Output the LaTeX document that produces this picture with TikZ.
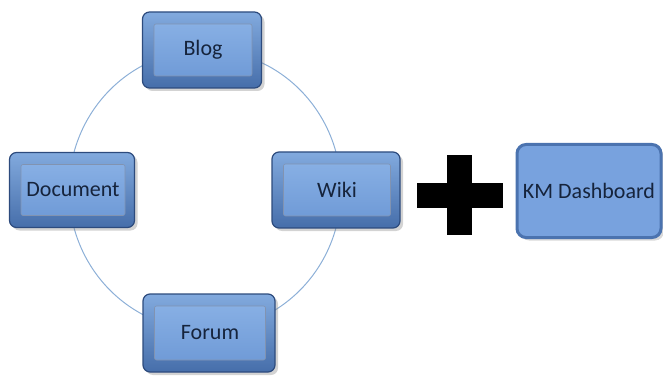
\documentclass[tikz,border=0pt]{standalone}
\usepackage{fontspec}
\setmainfont{Carlito}
\usetikzlibrary{shadows}
\definecolor{ring}{RGB}{140,175,215}
\definecolor{framedark}{RGB}{45,75,125}
\definecolor{frametop}{RGB}{130,170,222}
\definecolor{framebot}{RGB}{70,110,170}
\definecolor{face}{RGB}{112,155,215}
\definecolor{facetop}{RGB}{135,175,228}
\definecolor{txt}{RGB}{22,36,60}
\definecolor{kmfill}{RGB}{120,162,222}
\definecolor{kmline}{RGB}{75,115,175}
\tikzset{
  outerbox/.style={rounded corners=7pt, draw=framedark, line width=1.2pt,
    top color=frametop, bottom color=framebot,
    drop shadow={shadow xshift=3pt, shadow yshift=-3pt, opacity=0.35},
    inner sep=0pt},
  facebox/.style={rounded corners=2pt, draw=framedark!60, line width=0.6pt,
    top color=facetop, bottom color=face, text=txt, inner sep=0pt,
    font=\fontsize{22}{26}\selectfont},
  kmbox/.style={rounded corners=9pt, draw=kmline, line width=3pt, fill=kmfill,
    text=txt, drop shadow={shadow xshift=3pt, shadow yshift=-3pt, opacity=0.3},
    minimum width=144pt, minimum height=93pt, font=\fontsize{22}{26}\selectfont},
  ringline/.style={draw=ring, line width=1pt}
}
\begin{document}
\begin{tikzpicture}[x=1pt,y=-1pt]
\useasboundingbox (0,0) rectangle (663,379);
% ring
\draw[ringline] (205,190) ellipse [x radius=136pt, y radius=140pt];
% Blog
\node[outerbox, minimum width=119pt, minimum height=76pt] (blog) at (202,50) {};
\node[facebox, minimum width=98pt, minimum height=52pt] (blogface) at (203,50) {Blog};
% Document
\node[outerbox, minimum width=125pt, minimum height=75pt] (doc) at (72,190) {};
\node[facebox, minimum width=104pt, minimum height=51pt] (docface) at (73,190) {Document};
% Wiki
\node[outerbox, minimum width=128pt, minimum height=76pt] (wiki) at (336,190) {};
\node[facebox, minimum width=107pt, minimum height=52pt] (wikiface) at (337,190) {Wiki};
% Forum
\node[outerbox, minimum width=132pt, minimum height=78pt] (forum) at (209,333) {};
\node[facebox, minimum width=111pt, minimum height=54pt] (forumface) at (210,333) {Forum};
% plus
\fill[black] (447,155) rectangle (472,235);
\fill[black] (417,183) rectangle (503,208);
% KM Dashboard
\node[kmbox] (km) at (589,191) {KM Dashboard};
\end{tikzpicture}
\end{document}
